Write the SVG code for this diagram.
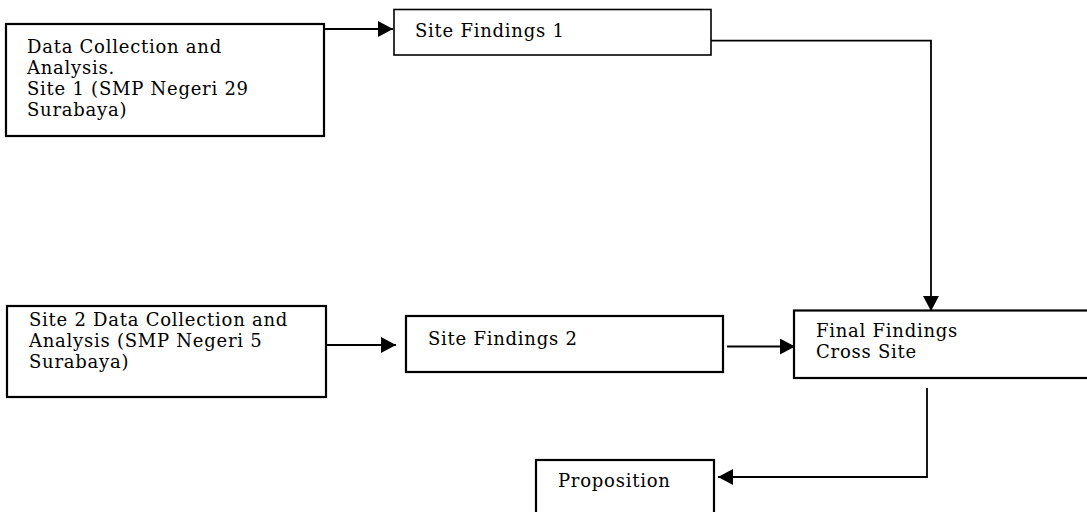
<svg xmlns="http://www.w3.org/2000/svg" width="1087" height="512" viewBox="0 0 1087 512">
<style>
.box{fill:#fff;stroke:#000;stroke-width:2.2}
.thin{stroke-width:1.6}
.t{font-family:"DejaVu Serif","Liberation Serif",serif;font-size:18px;letter-spacing:0.75px;fill:#000}
.c{fill:none;stroke:#000;stroke-width:1.8}
</style>
<defs>
<marker id="ah" markerUnits="userSpaceOnUse" markerWidth="16" markerHeight="17" refX="15" refY="8" orient="auto">
<path d="M0,0 L15,8 L0,16 Z" fill="#000"/>
</marker>
</defs>
<rect width="1087" height="512" fill="#fff"/>
<g id="connectors">
<path class="c" d="M324,29 H393" marker-end="url(#ah)"/>
<path class="c" d="M711,40.7 H931 V311" marker-end="url(#ah)"/>
<path class="c" d="M326,345 H396" marker-end="url(#ah)"/>
<path class="c" d="M727,346.5 H795" marker-end="url(#ah)"/>
<path class="c" d="M927,388 V477 H718" marker-end="url(#ah)"/>
</g>
<g id="n1">
<rect class="box" x="6" y="24" width="318" height="112"/>
<text class="t" x="27" y="53">Data Collection and</text>
<text class="t" x="27" y="74">Analysis.</text>
<text class="t" x="27" y="95">Site 1 (SMP Negeri 29</text>
<text class="t" x="27" y="116">Surabaya)</text>
</g>
<g id="n2">
<rect class="box thin" x="394" y="9.5" width="317" height="45.5"/>
<text class="t" x="415" y="37">Site Findings 1</text>
</g>
<g id="n3">
<rect class="box" x="7" y="306" width="319" height="91"/>
<text class="t" x="29" y="326">Site 2 Data Collection and</text>
<text class="t" x="29" y="347">Analysis (SMP Negeri 5</text>
<text class="t" x="29" y="368">Surabaya)</text>
</g>
<g id="n4">
<rect class="box" x="406" y="316" width="317" height="56"/>
<text class="t" x="428" y="345">Site Findings 2</text>
</g>
<g id="n5">
<rect class="box" x="794" y="310.5" width="300" height="67.5"/>
<text class="t" x="816" y="337">Final Findings</text>
<text class="t" x="816" y="358">Cross Site</text>
</g>
<g id="n6">
<rect class="box" x="536" y="460" width="178" height="60"/>
<text class="t" x="558" y="487">Proposition</text>
</g>
</svg>
